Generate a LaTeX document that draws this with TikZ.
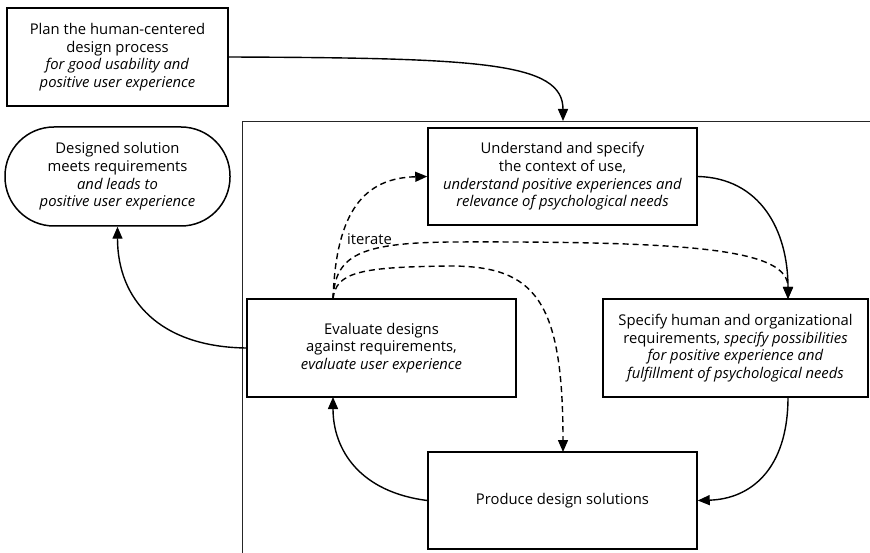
\documentclass[tikz,border=0pt]{standalone}
\usepackage{fontspec}
\setmainfont{Open Sans}
\usetikzlibrary{arrows.meta}
\begin{document}
\begin{tikzpicture}[x=1pt,y=-1pt,
  txt/.style={font=\fontsize{14.8}{17.6}\selectfont},
  stagebox/.style={draw, line width=1.5pt, align=center, inner sep=0pt, txt},
  pill/.style={stagebox, rounded corners=49pt},
  flow/.style={line width=1.4pt, -{Triangle[length=12pt,width=10pt]}},
  iter/.style={flow, dashed, dash pattern=on 6pt off 4pt},
  frame/.style={line width=0.8pt, black!85}]
\useasboundingbox (0,0) rectangle (870,553);

% outer frame of the iterative cycle
\coordinate (fbl) at (242,553);
\coordinate (ftl) at (242,121);
\coordinate (ftr) at (870,121);
\draw[frame] (fbl) -- (ftl) -- (ftr);

% stages
\node[stagebox, minimum width=221pt, minimum height=98pt] (plan) at (117.5,57)
  {Plan the human-centered\\ design process\\ \textit{for good usability and}\\ \textit{positive user experience}};
\node[pill, minimum width=225pt, minimum height=99pt] (goal) at (117.5,176.5)
  {Designed solution\\ meets requirements\\ \textit{and leads to}\\ \textit{positive user experience}};
\node[stagebox, minimum width=269pt, minimum height=97pt] (ctx) at (562.5,176.5)
  {Understand and specify\\ the context of use,\\ \textit{understand positive experiences and}\\ \textit{relevance of psychological needs}};
\node[stagebox, minimum width=265pt, minimum height=98pt] (req) at (735.5,348)
  {Specify human and organizational\\ requirements, \textit{specify possibilities}\\ \textit{for positive experience and}\\ \textit{fulfillment of psychological needs}};
\node[stagebox, minimum width=269pt, minimum height=98pt] (eval) at (381.5,348)
  {Evaluate designs\\ against requirements,\\ \textit{evaluate user experience}};
\node[stagebox, minimum width=269pt, minimum height=97pt] (prod) at (562.5,500.5)
  {Produce design solutions};

% attachment points
\coordinate (ftop) at (563,121);
\coordinate (reqN) at (788,299);
\coordinate (reqS) at (788,397);
\coordinate (evalN) at (333,299);
\coordinate (evalS) at (333,397);
\coordinate (prodN) at (563,452);

% main cycle
\draw[flow] (plan.east) .. controls (480,58) and (563,62) .. (ftop);
\draw[flow] (ctx.east) .. controls (760,178) and (788,230) .. (reqN);
\draw[flow] (reqS) .. controls (788,470) and (750,499) .. (prod.east);
\draw[flow] (prod.west) .. controls (360,492) and (333,450) .. (evalS);
\draw[flow] (eval.west) .. controls (160,347) and (117.5,300) .. (goal.south);

% iteration
\draw[iter] (evalN) .. controls (336,210) and (365,178) .. (ctx.west);
\draw[iter] (evalN) .. controls (335,255) and (360,243) .. (450,242)
  .. controls (700,241) and (788,250) .. (reqN);
\draw[iter] (evalN) .. controls (336,272) and (360,267) .. (450,266)
  .. controls (535,266) and (563,300) .. (prodN);
\node[txt, anchor=west, inner sep=0pt] (itlabel) at (347,239) {iterate};
\end{tikzpicture}
\end{document}
